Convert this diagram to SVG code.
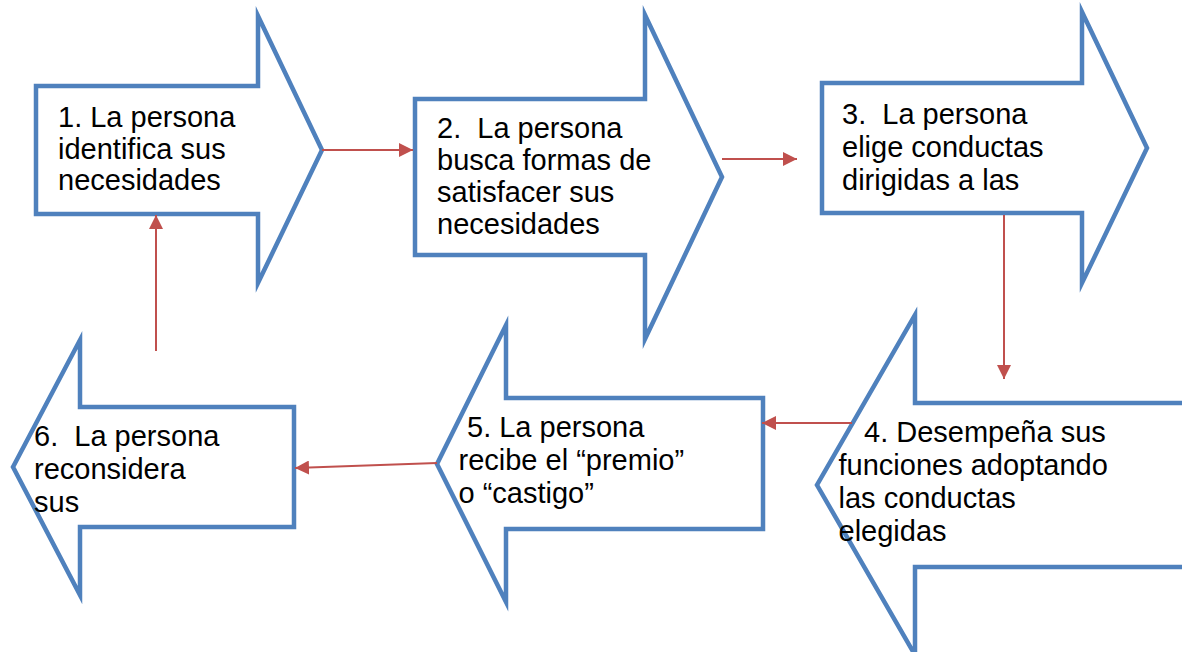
<svg xmlns="http://www.w3.org/2000/svg" width="1182" height="652" viewBox="0 0 1182 652">
<style>
.shape{fill:#FFFFFF;stroke:#4F81BD;stroke-width:4.5;stroke-miterlimit:10;stroke-linejoin:miter}
.lbl{font-family:"Liberation Sans",Arial,sans-serif;font-size:29px;fill:#000000;white-space:pre}
.con{stroke:#C0504D;stroke-width:2;fill:none;marker-end:url(#ah)}
</style>
<defs>
<marker id="ah" markerUnits="userSpaceOnUse" markerWidth="14" markerHeight="14" refX="14" refY="7" orient="auto">
<path d="M0,0 L14,7 L0,14 Z" fill="#C0504D"/>
</marker>
</defs>
<rect width="1182" height="652" fill="#FFFFFF"/>

<g id="node1">
<path class="shape" d="M36,86 L258,86 L258,16 L322,150 L258,283 L258,214 L36,214 Z"/>
<text class="lbl"><tspan x="58" y="127">1. La persona</tspan><tspan x="58" y="159">identifica sus</tspan><tspan x="58" y="190">necesidades</tspan></text>
</g>

<g id="node2">
<path class="shape" d="M415,99 L645,99 L645,15 L722,177 L645,339 L645,255 L415,255 Z"/>
<text class="lbl" xml:space="preserve"><tspan x="437" y="138">2.  La persona</tspan><tspan x="437" y="170">busca formas de</tspan><tspan x="437" y="202">satisfacer sus</tspan><tspan x="437" y="234">necesidades</tspan></text>
</g>

<g id="node3">
<path class="shape" d="M822,83 L1082,83 L1082,12 L1147,148 L1082,283 L1082,213 L822,213 Z"/>
<text class="lbl" xml:space="preserve"><tspan x="842" y="124">3.  La persona</tspan><tspan x="842" y="157">elige conductas</tspan><tspan x="842" y="190">dirigidas a las</tspan></text>
</g>

<g id="node4">
<path class="shape" d="M1190,403 L915,403 L915,315 L817,485 L915,655 L915,567 L1190,567"/>
<text class="lbl"><tspan x="864" y="442">4. Desempeña sus</tspan><tspan x="838.5" y="475">funciones adoptando</tspan><tspan x="838.5" y="508">las conductas</tspan><tspan x="838.5" y="541">elegidas</tspan></text>
</g>

<g id="node5">
<path class="shape" d="M763,398 L506,398 L506,325 L437,464 L506,602 L506,529 L763,529 Z"/>
<text class="lbl"><tspan x="467" y="437">5. La persona</tspan><tspan x="458.5" y="470">recibe el “premio”</tspan><tspan x="458.5" y="503">o “castigo”</tspan></text>
</g>

<g id="node6">
<path class="shape" d="M294,407 L80,407 L80,340 L13,467 L80,595 L80,527 L294,527 Z"/>
<text class="lbl" xml:space="preserve"><tspan x="34" y="446">6.  La persona</tspan><tspan x="34" y="479">reconsidera</tspan><tspan x="34" y="512">sus</tspan></text>
</g>

<g id="connectors">
<line class="con" x1="322" y1="150" x2="413" y2="150"/>
<line class="con" x1="722" y1="159" x2="797" y2="159"/>
<line class="con" x1="1004" y1="215" x2="1004" y2="379"/>
<line class="con" x1="852" y1="423" x2="762" y2="423"/>
<line class="con" x1="437" y1="463" x2="295" y2="468"/>
<line class="con" x1="156" y1="351" x2="156" y2="215"/>
</g>
</svg>
